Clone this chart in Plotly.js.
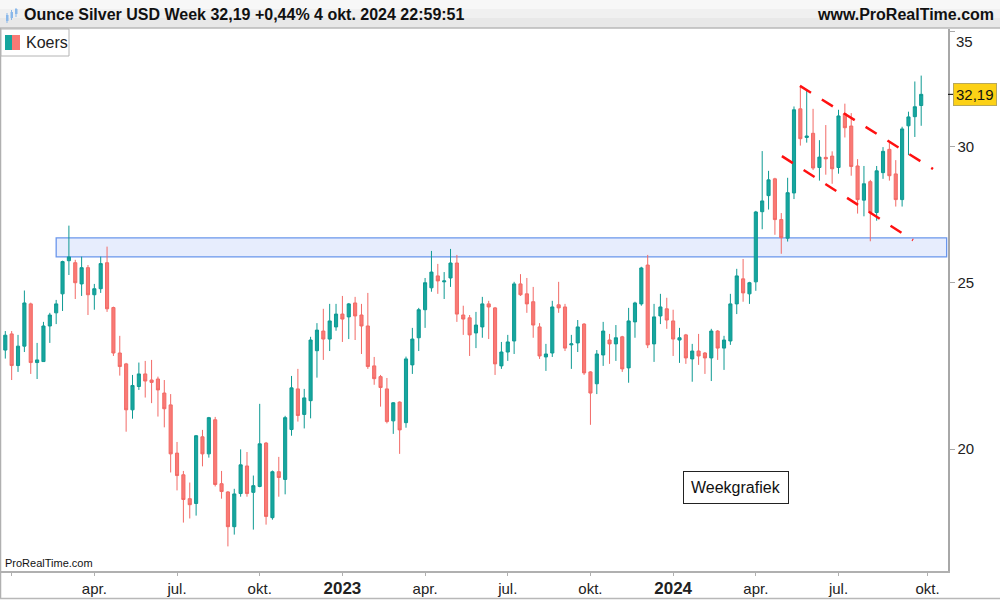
<!DOCTYPE html>
<html>
<head>
<meta charset="utf-8">
<script src="https://cdn.plot.ly/plotly-3.0.1.min.js"></script>
<style>
html,body{margin:0;padding:0;background:#fff;}
#chart{width:1000px;height:600px;}
</style>
</head>
<body>
<div id="chart"></div>
<script>
// Weekly bars (week start, Monday)
const weeks = [
"2021-12-27",
"2022-01-03","2022-01-10","2022-01-17","2022-01-24","2022-01-31","2022-02-07","2022-02-14","2022-02-21","2022-02-28",
"2022-03-07","2022-03-14","2022-03-21","2022-03-28","2022-04-04","2022-04-11","2022-04-18","2022-04-25","2022-05-02",
"2022-05-09","2022-05-16","2022-05-23","2022-05-30","2022-06-06","2022-06-13","2022-06-20","2022-06-27","2022-07-04",
"2022-07-11","2022-07-18","2022-07-25","2022-08-01","2022-08-08","2022-08-15","2022-08-22","2022-08-29","2022-09-05",
"2022-09-12","2022-09-19","2022-09-26","2022-10-03","2022-10-10","2022-10-17","2022-10-24","2022-10-31","2022-11-07",
"2022-11-14","2022-11-21","2022-11-28","2022-12-05","2022-12-12","2022-12-19","2022-12-26",
"2023-01-02","2023-01-09","2023-01-16","2023-01-23","2023-01-30","2023-02-06","2023-02-13","2023-02-20","2023-02-27",
"2023-03-06","2023-03-13","2023-03-20","2023-03-27","2023-04-03","2023-04-10","2023-04-17","2023-04-24","2023-05-01",
"2023-05-08","2023-05-15","2023-05-22","2023-05-29","2023-06-05","2023-06-12","2023-06-19","2023-06-26","2023-07-03",
"2023-07-10","2023-07-17","2023-07-24","2023-07-31","2023-08-07","2023-08-14","2023-08-21","2023-08-28","2023-09-04",
"2023-09-11","2023-09-18","2023-09-25","2023-10-02","2023-10-09","2023-10-16","2023-10-23","2023-10-30","2023-11-06",
"2023-11-13","2023-11-20","2023-11-27","2023-12-04","2023-12-11","2023-12-18","2023-12-25",
"2024-01-01","2024-01-08","2024-01-15","2024-01-22","2024-01-29","2024-02-05","2024-02-12","2024-02-19","2024-02-26",
"2024-03-04","2024-03-11","2024-03-18","2024-03-25","2024-04-01","2024-04-08","2024-04-15","2024-04-22","2024-04-29",
"2024-05-06","2024-05-13","2024-05-20","2024-05-27","2024-06-03","2024-06-10","2024-06-17","2024-06-24","2024-07-01",
"2024-07-08","2024-07-15","2024-07-22","2024-07-29","2024-08-05","2024-08-12","2024-08-19","2024-08-26","2024-09-02",
"2024-09-09","2024-09-16","2024-09-23","2024-09-30"
];

const openP = [
22.84,23.34,22.37,22.96,24.30,22.46,22.49,23.59,24.01,24.63,
25.75,25.68,24.96,25.51,24.60,24.80,25.68,24.18,22.75,22.42,
21.08,21.75,22.12,21.94,21.97,21.56,21.22,19.89,19.32,18.71,
18.59,20.33,19.87,20.80,19.09,18.88,18.02,18.84,19.55,18.87,
19.02,20.16,18.24,19.40,19.20,20.53,21.68,20.95,21.34,22.82,
23.43,23.18,23.56,23.97,23.88,24.33,23.94,23.59,22.36,22.04,
21.68,20.77,21.30,20.72,22.39,23.22,24.11,24.83,25.23,25.03,
25.16,25.67,23.94,23.85,23.37,23.56,24.30,24.17,22.36,22.78,
23.12,24.96,24.63,24.37,23.56,22.63,22.75,24.27,24.20,23.00,
23.06,23.65,22.18,21.83,22.69,23.15,23.03,23.25,22.30,23.72,
24.30,25.60,23.03,23.91,24.14,23.75,23.15,23.31,22.57,22.81,
22.75,22.60,23.43,22.90,23.12,24.30,25.13,24.63,25.03,27.50,
28.10,28.74,27.21,26.54,28.20,31.57,30.38,30.55,29.18,29.58,
29.63,29.18,31.36,30.85,29.24,27.93,28.63,27.47,28.98,29.90,
28.93,27.95,30.86,31.24,31.71
];
const highP = [
23.43,23.43,23.31,24.74,24.34,23.06,23.72,24.01,24.43,25.75,
26.99,25.78,25.89,25.60,24.96,25.89,26.24,24.21,23.28,22.45,
22.09,22.46,22.51,22.54,22.04,21.94,21.53,20.19,19.42,19.12,
20.38,20.52,20.88,20.88,19.42,18.90,18.96,19.99,19.92,19.30,
21.25,20.19,19.43,19.79,20.91,22.06,22.27,21.68,23.25,23.68,
24.14,24.30,24.30,24.56,24.33,24.53,24.30,24.66,22.63,22.09,
22.00,21.30,21.32,22.64,23.53,24.17,25.16,26.09,25.64,25.36,
26.16,25.95,24.24,23.94,24.04,24.53,24.40,24.20,23.09,23.31,
25.03,25.29,25.16,24.86,23.68,23.03,24.40,25.03,24.30,23.31,
23.78,23.68,22.20,22.84,23.72,23.34,23.62,23.28,24.17,24.37,
25.54,25.95,24.30,24.63,24.50,24.11,23.53,23.34,23.03,23.34,
22.78,23.50,23.46,23.28,24.63,25.47,25.81,25.03,27.53,29.83,
29.05,28.78,27.45,28.78,31.67,32.56,32.39,31.57,30.27,30.89,
29.82,31.53,31.79,31.39,29.51,29.24,28.70,29.24,29.99,30.24,
29.47,30.82,31.45,32.75,33.01
];
const lowP = [
22.58,21.94,22.18,22.78,22.12,21.97,22.49,23.06,23.65,24.07,
25.26,24.46,24.56,23.94,24.11,24.66,24.04,22.66,22.07,20.47,
20.83,21.65,21.43,21.27,20.89,20.59,19.38,18.92,18.12,18.22,
18.29,19.54,19.77,19.02,18.71,17.55,17.83,18.76,18.76,17.95,
19.00,18.07,18.19,18.76,18.82,20.36,20.75,20.56,20.84,22.01,
22.54,22.81,23.44,23.09,23.18,23.15,22.72,22.27,21.80,21.17,
20.70,20.41,19.87,20.58,22.12,22.81,23.53,24.70,24.63,24.46,
24.86,23.72,23.31,22.66,22.90,23.22,23.18,22.09,22.27,22.51,
22.72,24.56,24.01,23.22,22.57,22.21,22.63,24.01,22.81,22.27,
22.78,22.09,20.66,21.53,22.36,22.42,22.51,22.18,21.86,23.22,
24.24,22.90,22.48,23.65,23.50,22.66,22.45,22.42,21.89,22.39,
22.12,21.91,22.54,22.24,23.00,23.97,24.37,24.30,24.73,26.86,
27.58,26.66,25.99,26.42,27.97,30.05,30.17,29.08,28.67,28.90,
28.55,28.94,30.38,28.86,27.43,27.33,26.43,27.17,28.74,28.67,
27.69,27.69,29.67,30.40,30.86
];
const closeP = [
23.30,22.37,22.96,24.33,22.46,22.54,23.59,23.94,24.30,25.72,
25.88,25.00,25.51,24.60,24.80,25.65,24.14,22.75,22.34,21.08,
21.78,22.12,21.91,21.87,21.65,21.11,19.87,19.30,18.69,18.56,
20.36,19.87,20.86,19.07,18.89,18.02,18.83,19.58,18.84,19.04,
20.14,18.27,19.40,19.25,20.86,21.71,20.92,21.42,23.15,23.46,
23.18,23.75,23.97,23.81,24.30,23.91,23.59,22.34,21.98,21.72,
20.75,21.28,20.52,22.57,23.18,24.11,25.00,25.36,25.06,25.06,
25.67,23.97,23.81,23.31,23.62,24.30,24.20,22.42,22.78,23.09,
24.96,24.60,24.30,23.62,22.66,22.72,24.20,24.17,22.90,23.03,
23.56,22.15,21.56,22.72,23.43,23.03,23.22,22.27,23.75,24.33,
25.50,23.00,23.88,24.20,23.78,23.18,23.22,22.60,22.81,22.66,
22.60,23.43,22.90,23.15,24.30,25.23,24.66,25.00,27.49,27.90,
28.70,27.21,26.56,28.21,31.53,30.33,30.44,29.16,29.59,29.52,
29.13,31.27,30.78,29.22,27.95,28.55,27.47,29.05,29.82,28.86,
27.95,30.73,31.23,31.66,32.19
];

// Axis ticks (first weekly bar of each quarter)
const xTickVals = ["2022-01-03","2022-04-04","2022-07-04","2022-10-03","2023-01-02","2023-04-03","2023-07-03","2023-10-02","2024-01-01","2024-04-01","2024-07-01","2024-10-07"];
const xTickText = ["","apr.","jul.","okt.","2023","apr.","jul.","okt.","2024","apr.","jul.","okt."];
const yearTicks = ["2023","2024"];
const yTickVals = [20,25,30,35];
const yTickText = ["20","25","30",""];
const topTickValue = 35;
const topTickText = "35";

// Drawn analysis objects
const zoneX = ["2022-02-21","2024-10-28"];
const zoneY = [25.88,26.55];
const upperLineX = ["2024-05-19 14:00","2024-10-13 00:00"];
const upperLineY = [32.56,29.12];
const lowerLineX = ["2024-04-29 17:00","2024-09-21 00:00"];
const lowerLineY = [29.63,26.47];

const titleText = "Ounce Silver USD Week 32,19 +0,44% 4 okt. 2024 22:59:51";
const siteText = "www.ProRealTime.com";
const seriesName = "Koers";
const lastLabel = "32,19";
const noteText = "Weekgrafiek";

const FONT = "Liberation Sans, Arial, Helvetica, sans-serif";
const TEAL = "#16a69e", TEAL_L = "#0e9a93";
const RED = "#f97a75", RED_L = "#f26a66";

// plot area in pixels: x 1..948, y 29..571
const PW = 947, PH = 542;
const px = (x) => (x - 1) / PW;
const py = (y) => (571 - y) / PH;

const trace = {
  type: "candlestick",
  name: seriesName,
  x: weeks, open: openP, high: highP, low: lowP, close: closeP,
  increasing: {line: {color: TEAL_L, width: 1}, fillcolor: TEAL},
  decreasing: {line: {color: RED_L, width: 1}, fillcolor: RED},
  whiskerwidth: 0,
  hoverinfo: "skip",
  showlegend: false
};

const lastClose = closeP[closeP.length - 1];

const shapes = [
  // title band (fake gradient)
  {type:"rect", xref:"paper", yref:"paper", x0:px(-1), x1:px(1001), y0:py(0), y1:py(9), fillcolor:"#f7f7f7", line:{width:0}, layer:"below"},
  {type:"rect", xref:"paper", yref:"paper", x0:px(-1), x1:px(1001), y0:py(9), y1:py(18), fillcolor:"#f0f0f0", line:{width:0}, layer:"below"},
  {type:"rect", xref:"paper", yref:"paper", x0:px(-1), x1:px(1001), y0:py(18), y1:py(28), fillcolor:"#e8e8e8", line:{width:0}, layer:"below"},
  {type:"line", xref:"paper", yref:"paper", x0:px(-1), x1:px(1001), y0:py(28), y1:py(28), line:{color:"#b8b8b8", width:1.5}},
  // frame lines
  {type:"line", xref:"paper", yref:"paper", x0:px(0.5), x1:px(0.5), y0:py(28), y1:py(599), line:{color:"#b0b0b0", width:1.5}},
  {type:"line", xref:"paper", yref:"paper", x0:px(0), x1:px(1000), y0:py(598.5), y1:py(598.5), line:{color:"#b8b8b8", width:1.5}},
  // title icon
  {type:"line", xref:"paper", yref:"paper", x0:px(7), x1:px(7), y0:py(13), y1:py(23), line:{color:"#8ab8ea", width:1}},
  {type:"rect", xref:"paper", yref:"paper", x0:px(6), x1:px(8.5), y0:py(15), y1:py(21), fillcolor:"#8ab8ea", line:{width:0}},
  {type:"line", xref:"paper", yref:"paper", x0:px(11.5), x1:px(11.5), y0:py(10), y1:py(20), line:{color:"#8ab8ea", width:1}},
  {type:"rect", xref:"paper", yref:"paper", x0:px(10.5), x1:px(13), y0:py(12), y1:py(18), fillcolor:"#8ab8ea", line:{width:0}},
  {type:"line", xref:"paper", yref:"paper", x0:px(16), x1:px(16), y0:py(8), y1:py(17), line:{color:"#8ab8ea", width:1}},
  {type:"rect", xref:"paper", yref:"paper", x0:px(15), x1:px(17.5), y0:py(9), y1:py(14), fillcolor:"#8ab8ea", line:{width:0}},
  // legend box
  {type:"rect", xref:"paper", yref:"paper", x0:px(1), x1:px(69), y0:py(29), y1:py(56), fillcolor:"#ffffff", line:{color:"#b4b4b4", width:1}},
  {type:"rect", xref:"paper", yref:"paper", x0:px(5), x1:px(12), y0:py(35), y1:py(50), fillcolor:TEAL, line:{width:0}},
  {type:"rect", xref:"paper", yref:"paper", x0:px(12), x1:px(20), y0:py(35), y1:py(50), fillcolor:RED, line:{width:0}},
  // resistance / support zone
  {type:"rect", xref:"x", yref:"y", x0:zoneX[0], x1:zoneX[1], y0:zoneY[0], y1:zoneY[1], fillcolor:"#e7edfd", line:{color:"#6a96ec", width:1.3}, layer:"below"},
  // falling channel
  {type:"line", xref:"x", yref:"y", x0:upperLineX[0], x1:upperLineX[1], y0:upperLineY[0], y1:upperLineY[1], line:{color:"#ff1010", width:2.5, dash:"13px,12.8px"}},
  {type:"line", xref:"x", yref:"y", x0:lowerLineX[0], x1:lowerLineX[1], y0:lowerLineY[0], y1:lowerLineY[1], line:{color:"#ff1010", width:2.5, dash:"13px,12.8px"}},
  // last price tick on axis
  {type:"line", xref:"paper", yref:"y", x0:1, x1:px(953), y0:lastClose, y1:lastClose, line:{color:"#000000", width:1}}
];

const annotations = [
  {xref:"paper", yref:"paper", x:px(22), y:py(14), xanchor:"left", yanchor:"middle", showarrow:false,
   text:"<b>"+titleText+"</b>", font:{family:FONT, size:16, color:"#111111"}},
  {xref:"paper", yref:"paper", x:px(996), y:py(14), xanchor:"right", yanchor:"middle", showarrow:false,
   text:"<b>"+siteText+"</b>", font:{family:FONT, size:16, color:"#111111"}},
  {xref:"paper", yref:"paper", x:px(24), y:py(42.5), xanchor:"left", yanchor:"middle", showarrow:false,
   text:seriesName, font:{family:FONT, size:16, color:"#222222"}},
  {xref:"paper", yref:"paper", x:px(736), y:py(487.5), xanchor:"center", yanchor:"middle", showarrow:false,
   text:noteText, font:{family:FONT, size:16, color:"#111111"}, bgcolor:"#ffffff", bordercolor:"#222222", borderwidth:1, borderpad:7},
  {xref:"paper", yref:"paper", x:px(3), y:py(563), xanchor:"left", yanchor:"middle", showarrow:false,
   text:"ProRealTime.com", font:{family:FONT, size:11, color:"#111111"}},
  {xref:"paper", yref:"y", x:px(954), y:Math.log10(topTickValue), yshift:-10, xanchor:"left", yanchor:"middle", showarrow:false,
   text:topTickText, font:{family:FONT, size:15, color:"#222222"}},
  {xref:"paper", yref:"y", x:px(953), y:Math.log10(lastClose), xanchor:"left", yanchor:"middle", showarrow:false,
   text:lastLabel, font:{family:FONT, size:15, color:"#111111"}, bgcolor:"#fcd116", bordercolor:"#b8a85a", borderwidth:1, borderpad:2}
];

const layout = {
  width: 1000, height: 600,
  margin: {l:1, r:52, t:29, b:29, pad:0},
  paper_bgcolor: "#ffffff", plot_bgcolor: "#ffffff",
  showlegend: false,
  dragmode: false,
  xaxis: {
    type: "date",
    range: ["2021-12-22 06:30", "2024-10-29 12:00"],
    rangeslider: {visible: false},
    showgrid: false, zeroline: false,
    showline: true, linecolor: "#b0b0b0", linewidth: 1.5,
    ticks: "outside", ticklen: 3, tickcolor: "#b0b0b0", tickwidth: 1,
    tickmode: "array", tickvals: xTickVals,
    ticktext: xTickText.map(t => yearTicks.includes(t) ? '<span style="font-size:17px"><b>'+t+'</b></span>' : t),
    tickfont: {family: FONT, size: 15, color: "#222222"},
    fixedrange: true
  },
  yaxis: {
    type: "log", side: "right",
    range: [Math.log10(16.98), Math.log10(35.14)],
    showgrid: false, zeroline: false,
    showline: true, linecolor: "#a8a8a8", linewidth: 1.5,
    ticks: "outside", ticklen: 5, tickcolor: "#a8a8a8", tickwidth: 1,
    tickmode: "array", tickvals: yTickVals, ticktext: yTickText,
    tickfont: {family: FONT, size: 15, color: "#222222"},
    fixedrange: true
  },
  shapes: shapes,
  annotations: annotations
};

Plotly.newPlot("chart", [trace], layout, {displayModeBar: false, staticPlot: true});
</script>
</body>
</html>
